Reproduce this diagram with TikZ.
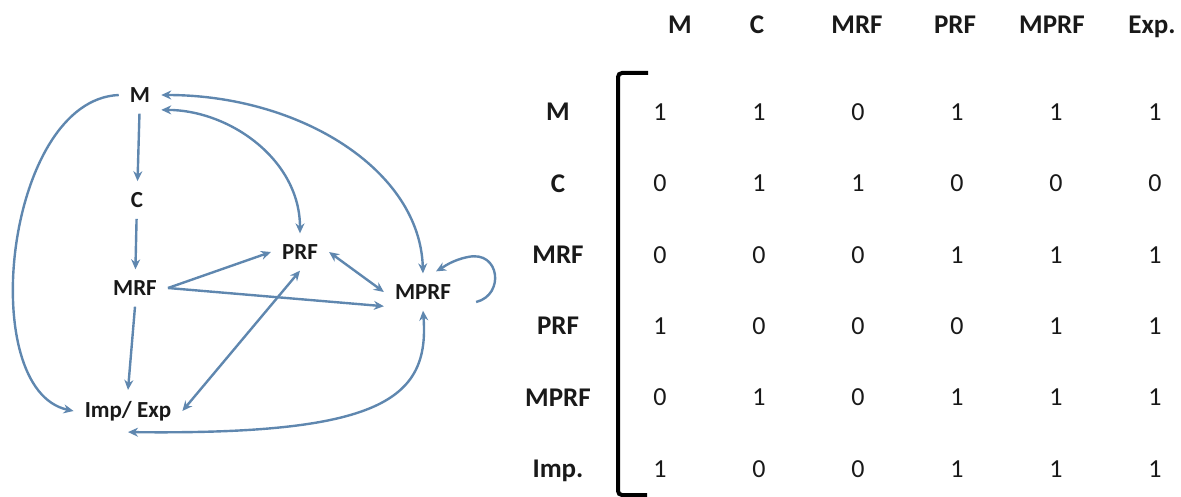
\documentclass[tikz,border=0pt]{standalone}
\usepackage{fontspec}
\setmainfont{Carlito}
\usetikzlibrary{arrows.meta,calc}
\definecolor{edgeblue}{RGB}{95,135,175}
\definecolor{inkc}{RGB}{25,25,25}
\tikzset{
 gnode/.style={inner sep=11pt, text=inkc, font=\fontsize{23}{23}\selectfont\bfseries},
 arr/.style={draw=edgeblue, line width=2.4pt, -{Stealth[length=10pt,width=9pt]}},
 darr/.style={draw=edgeblue, line width=2.4pt, {Stealth[length=10pt,width=9pt]}-{Stealth[length=10pt,width=9pt]}},
 hdr/.style={anchor=base, inner sep=0pt, text=inkc, font=\fontsize{27}{27}\selectfont\bfseries},
 num/.style={anchor=base, inner sep=0pt, text=inkc, font=\fontsize{26}{26}\selectfont},
 brk/.style={draw=black, line width=4pt, rounded corners=4pt}
}
\begin{document}
\begin{tikzpicture}[x=1pt,y=-1pt]
\useasboundingbox (0,0) rectangle (1181,497);
% graph
\node[gnode] (gM) at (140,95) {M};
\node[gnode] (gC) at (137,200) {C};
\node[gnode] (gMRF) at (135,288) {MRF};
\node[gnode] (gPRF) at (300,252) {PRF};
\node[gnode] (gMPRF) at (423,292) {MPRF};
\node[gnode] (gImp) at (128,411) {Imp/ Exp};

\draw[arr] (gM) -- (gC);
\draw[arr] (gC) -- (gMRF);
\draw[arr] (gMRF.south) -- (gImp.north);
\draw[arr] (gM.west) .. controls (5,100) and (-25,390) .. (gImp.west);
\draw[darr] (gM.-35) .. controls (230,110) and (300,160) .. (gPRF.north);
\draw[darr] (gM.east) .. controls (300,95) and (420,170) .. (gMPRF.north);
\draw[arr] (gMRF.east) -- (gPRF.west);
\draw[arr] (gMRF.east) -- (gMPRF.200);
\draw[darr] (gPRF.east) -- (gMPRF.west);
\draw[darr] (gPRF.south) -- (gImp.east);
\draw[darr] (gMPRF.south) .. controls (430,400) and (380,435) .. (gImp.south);
\draw[arr] ($(gMPRF.east)+(14,10)$) .. controls (505,295) and (500,250) .. (468,257) .. controls (452,260) and (442,268) .. ($(gMPRF.north)+(13,-2)$);

% matrix
\foreach \t/\x [count=\i] in {M/680, C/757, MRF/857, PRF/955, MPRF/1052, Exp./1152}
  \node[hdr] (h\i) at (\x,34) {\t};
\foreach \t [count=\i] in {M, C, MRF, PRF, MPRF, Imp.}
  \node[hdr] (r\i) at (558,{112+71.4*(\i-1)+8.7}) {\t};
\foreach \row [count=\i] in {{1,1,0,1,1,1},{0,1,1,0,0,0},{0,0,0,1,1,1},{1,0,0,0,1,1},{0,1,0,1,1,1},{1,0,0,1,1,1}}
  \foreach \v [count=\j] in \row
    \node[num] (n\i\j) at ({660+99*(\j-1)},{112+71.4*(\i-1)+8.2}) {\v};
\draw[brk] (648,73) -- (618,73) -- (618,495) -- (647,495);
\end{tikzpicture}
\end{document}
